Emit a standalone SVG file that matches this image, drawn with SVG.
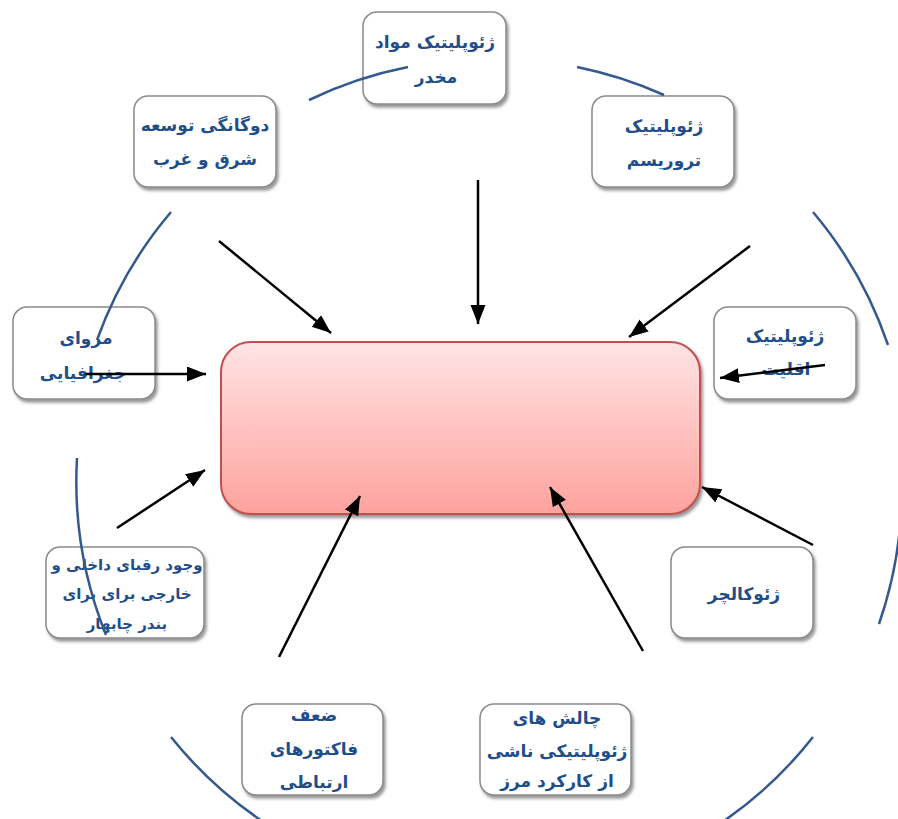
<svg xmlns="http://www.w3.org/2000/svg" width="898" height="819" viewBox="0 0 898 819">
<defs>
<linearGradient id="cg" x1="0" y1="0" x2="0" y2="1">
<stop offset="0" stop-color="#ffe4e4"/>
<stop offset="1" stop-color="#ffa29e"/>
</linearGradient>
<filter id="sh" x="-20%" y="-20%" width="150%" height="150%">
<feDropShadow dx="2" dy="3" stdDeviation="1.8" flood-color="#444" flood-opacity="0.55"/>
</filter>
<marker id="ah" markerUnits="userSpaceOnUse" markerWidth="20" markerHeight="16" refX="19" refY="7.5" orient="auto">
<path d="M0,0 L19,7.5 L0,15 Z" fill="#000"/>
</marker>
<style>
.node rect{fill:#fff;stroke:#8a8a8a;stroke-width:1.5;filter:url(#sh)}
.t{font-family:"DejaVu Sans",sans-serif;font-weight:bold;font-size:17px;fill:#1f4e8a;text-anchor:middle;direction:rtl}
.s{font-size:15px}
.arc{fill:none;stroke:#34598f;stroke-width:2.5}
.c{stroke:#000;stroke-width:2.5;fill:none;marker-end:url(#ah)}
</style>
</defs>
<rect width="898" height="819" fill="#fff"/>

<g id="center">
<rect x="221" y="342" width="479" height="172" rx="30" fill="url(#cg)" stroke="#c0504d" stroke-width="2" filter="url(#sh)"/>
</g>

<g id="n-top" class="node">
<rect x="363" y="12" width="143" height="92" rx="14"/>
<text class="t" x="435" y="48">ژئوپلیتیک مواد</text>
<text class="t" x="436" y="83">مخدر</text>
</g>
<g id="n-topleft" class="node">
<rect x="134" y="96" width="142" height="91" rx="14"/>
<text class="t" x="205" y="131">دوگانگی توسعه</text>
<text class="t" x="205" y="165">شرق و غرب</text>
</g>
<g id="n-topright" class="node">
<rect x="592" y="96" width="142" height="91" rx="14"/>
<text class="t" x="664" y="132">ژئوپلیتیک</text>
<text class="t" x="664" y="166">تروریسم</text>
</g>
<g id="n-left" class="node">
<rect x="13" y="307" width="142" height="92" rx="14"/>
<text class="t" x="86" y="344">مزوای</text>
<text class="t" x="83" y="379">جغرافیایی</text>
</g>
<g id="n-right" class="node">
<rect x="714" y="307" width="142" height="92" rx="14"/>
<text class="t" x="785" y="342">ژئوپلیتیک</text>
<text class="t" x="786" y="375">اقلیت</text>
</g>
<g id="n-lowerleft" class="node">
<rect x="46" y="547" width="158" height="91" rx="14"/>
<text class="t s" x="127" y="570">وجود رقبای داخلی و</text>
<text class="t s" x="127" y="599">خارجی  برای برای</text>
<text class="t s" x="127" y="629">بندر چابهار</text>
</g>
<g id="n-lowerright" class="node">
<rect x="671" y="547" width="142" height="91" rx="14"/>
<text class="t" x="744" y="600">ژئوکالچر</text>
</g>
<g id="n-bottomleft" class="node">
<rect x="242" y="704" width="141" height="91" rx="14"/>
<text class="t" x="314" y="721">ضعف</text>
<text class="t" x="314" y="755">فاکتورهای</text>
<text class="t" x="314" y="788">ارتباطی</text>
</g>
<g id="n-bottomright" class="node">
<rect x="480" y="704" width="151" height="91" rx="14"/>
<text class="t" x="557" y="724">چالش های</text>
<text class="t" x="557" y="757">ژئوپلیتیکی ناشی</text>
<text class="t" x="557" y="787">از کارکرد مرز</text>
</g>

<g id="ring">
<path class="arc" d="M309,100 A412,412 0 0 1 408,67"/>
<path class="arc" d="M577,67 A412,412 0 0 1 664,95"/>
<path class="arc" d="M813,212 A412,412 0 0 1 888,345"/>
<path class="arc" d="M900,528 A412,412 0 0 1 879,624"/>
<path class="arc" d="M813,737 A412,412 0 0 1 718,825"/>
<path class="arc" d="M268,825 A412,412 0 0 1 171,737"/>
<path class="arc" d="M106,635 A412,412 0 0 1 77,458"/>
<path class="arc" d="M97,340 A412,412 0 0 1 171,212"/>
</g>

<g id="connectors">
<line class="c" x1="219" y1="241" x2="331" y2="333"/>
<line class="c" x1="478" y1="180" x2="478" y2="324"/>
<line class="c" x1="750" y1="246" x2="629" y2="337"/>
<line class="c" x1="85" y1="374" x2="206" y2="374"/>
<line class="c" x1="825" y1="365" x2="720" y2="378"/>
<line class="c" x1="117" y1="528" x2="205" y2="470"/>
<line class="c" x1="813" y1="545" x2="702" y2="487"/>
<line class="c" x1="279" y1="657" x2="360" y2="496"/>
<line class="c" x1="643" y1="651" x2="550" y2="487"/>
</g>
</svg>
